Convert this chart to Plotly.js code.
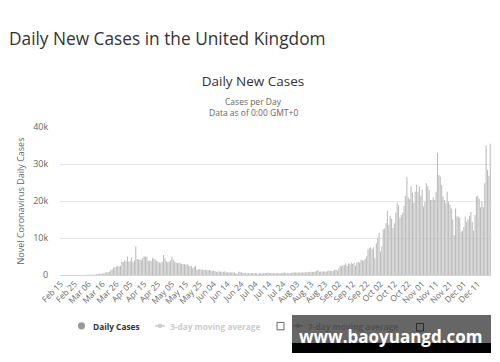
<!DOCTYPE html>
<html><head><meta charset="utf-8">
<script src="https://cdn.plot.ly/plotly-3.0.1.min.js"></script>
<style>html,body{margin:0;padding:0;background:#fff;}#chart{width:500px;height:362px;}</style>
</head><body><div id="chart"></div>
<script>
// Daily new cases (thousands), Feb 15 - Dec 20, 2020
const feb = [0,0,0,0,0,0,0,0,0,0,0.004,0,0.007,0.005,0.003];
const mar = [0.01,0.02,0.01,0.03,0.04,0.05,0.04,0.05,0.04,0.05,0.08,0.3,0.2,0.35,0.3,0.4,0.45,0.7,0.65,0.75,0.9,1.35,1.5,2.0,2.1,2.3,2.4,2.3,2.5,3.6,3.5];
const apr = [4.0,3.6,5.0,3.6,3.7,4.7,3.4,3.9,7.7,4.3,4.2,4.1,4.0,4.6,5.0,5.0,4.9,3.8,3.9,3.7,4.5,4.5,4.1,3.8,3.6,3.4,3.3,3.5,5.4,4.5];
const may = [3.8,3.4,3.6,3.9,5.0,4.1,3.6,3.4,3.2,3.3,3.2,3.0,2.9,3.0,2.8,2.9,2.6,2.3,2.4,1.8,2.2,2.5,1.4,1.5,1.6,1.5,1.5,1.35,1.4,1.35,1.3];
const jun = [1.35,1.2,1.1,1.2,1.0,0.9,0.9,1.0,0.85,0.9,0.9,0.95,0.75,0.7,0.7,0.75,0.7,0.7,0.7,0.45,0.25,0.9,0.85,0.65,0.55,0.5,0.6,0.5,0.45,0.5];
const jul = [0.55,0.5,0.5,0.55,0.5,0.35,0.5,0.55,0.4,0.45,0.55,0.5,0.6,0.55,0.5,0.45,0.5,0.45,0.55,0.5,0.45,0.35,0.55,0.6,0.65,0.6,0.5,0.45,0.55,0.6,0.7];
const aug = [0.65,0.7,0.6,0.65,0.7,0.65,0.7,0.75,0.7,0.75,0.8,0.75,0.85,0.8,0.85,0.9,1.1,1.35,0.9,0.95,0.9,1.0,0.9,0.95,1.0,1.2,1.1,1.1,1.05,1.35,1.5];
const sep = [1.2,1.8,2.5,2.3,2.7,2.7,3.2,2.4,3.2,2.9,3.4,3.0,3.3,2.5,3.4,3.6,3.4,4.1,4.0,3.9,4.3,5.0,6.8,7.3,7.5,6.9,7.5,4.5,8.6,10.0];
const oct = [11.4,6.4,7.7,12.3,12.6,14.0,17.3,13.6,16.0,15.2,12.7,14.0,16.8,19.5,18.8,15.5,16.2,16.8,18.8,21.4,26.4,21.0,20.5,24.0,22.3,19.5,22.5,24.3,22.5,24.0,21.4];
const nov = [23,18.5,19.8,24.8,24,23,20.3,20.3,21,20.3,22.5,33,27,26.6,24.3,21.2,20.3,19.4,22.5,19.8,19,18,15,10.8,18,15.8,15.8,15.5,11.7,12];
const dec = [13,15.8,14.4,15,16,17,14.4,12,16.2,21.2,21.4,20.7,18.3,19.8,18.3,24.8,35,28.4,26.8,35.5];

const tickLabels = ["Feb 15","Feb 25","Mar 06","Mar 16","Mar 26","Apr 05","Apr 15","Apr 25","May 05","May 15","May 25","Jun 04","Jun 14","Jun 24","Jul 04","Jul 14","Jul 24","Aug 03","Aug 13","Aug 23","Sep 02","Sep 12","Sep 22","Oct 02","Oct 12","Oct 22","Nov 01","Nov 11","Nov 21","Dec 01","Dec 11"];
const yTickVals = [0,10,20,30,40];
const yTickText = ["0","10k","20k","30k","40k"];
const legendLabels = ["Daily Cases","3-day moving average","7-day moving average"];

const values = [].concat(feb, mar, apr, may, jun, jul, aug, sep, oct, nov, dec);
const dates = values.map((v, i) => new Date(Date.UTC(2020, 1, 15 + i)).toISOString().slice(0, 10));
const tickVals = tickLabels.map((t, k) => dates[k * 10]);

// geometry helpers (pixel -> paper)
const L = 60, R = 491, T = 127, B = 275;
const px = x => (x - L) / (R - L);
const py = y => (B - y) / (B - T);
const FONT = "Open Sans, Liberation Sans, sans-serif";

const trace = {
  type: 'bar', x: dates, y: values, name: legendLabels[0],
  marker: { color: '#bdbdbd', line: { width: 0 } },
  hoverinfo: 'x+y'
};

const shapes = [
  // legend symbols
  { type: 'circle', xref: 'paper', yref: 'paper', xsizemode: 'pixel', ysizemode: 'pixel',
    xanchor: px(81.5), yanchor: py(325.8), x0: -3.6, x1: 3.6, y0: -3.6, y1: 3.6,
    fillcolor: '#9a9a9a', line: { width: 0 } },
  { type: 'line', xref: 'paper', yref: 'paper', x0: px(155), x1: px(165), y0: py(325.8), y1: py(325.8),
    line: { color: '#cccccc', width: 1.5 } },
  { type: 'circle', xref: 'paper', yref: 'paper', xsizemode: 'pixel', ysizemode: 'pixel',
    xanchor: px(160), yanchor: py(325.8), x0: -2.3, x1: 2.3, y0: -2.3, y1: 2.3,
    fillcolor: '#cccccc', line: { width: 0 } },
  { type: 'rect', xref: 'paper', yref: 'paper', x0: px(277), x1: px(284), y0: py(329.8), y1: py(322.4),
    fillcolor: '#ffffff', line: { color: '#666666', width: 1 } },
  // watermark banner
  { type: 'rect', xref: 'paper', yref: 'paper', x0: px(292), x1: px(491), y0: py(343), y1: py(315),
    fillcolor: 'rgba(0,0,0,0.6)', line: { width: 0 } },
  { type: 'rect', xref: 'paper', yref: 'paper', x0: px(292), x1: px(491), y0: py(353), y1: py(343),
    fillcolor: '#000000', line: { width: 0 } },
  { type: 'line', xref: 'paper', yref: 'paper', x0: px(293), x1: px(303), y0: py(325.8), y1: py(325.8),
    line: { color: '#525252', width: 1.5 } },
  { type: 'circle', xref: 'paper', yref: 'paper', xsizemode: 'pixel', ysizemode: 'pixel',
    xanchor: px(298), yanchor: py(325.8), x0: -2.3, x1: 2.3, y0: -2.3, y1: 2.3,
    fillcolor: '#525252', line: { width: 0 } },
  { type: 'rect', xref: 'paper', yref: 'paper', x0: px(416.5), x1: px(423.5), y0: py(331), y1: py(323.5),
    fillcolor: 'rgba(0,0,0,0)', line: { color: '#2a2a2a', width: 1 } }
];

const ann = (text, x, y, size, color, extra) => Object.assign({
  text: text, xref: 'paper', yref: 'paper', x: px(x), y: py(y), showarrow: false,
  xanchor: 'left', yanchor: 'middle', font: { family: FONT, size: size, color: color }
}, extra || {});

const annotations = [
  ann('Daily New Cases in the United Kingdom', 7, 38.5, 17.3, '#333333'),
  ann('Cases per Day', 253, 101.5, 8.5, '#666666', { xanchor: 'center' }),
  ann('Data as of 0:00 GMT+0', 253, 112, 8.5, '#666666', { xanchor: 'center' }),
  ann('<b>' + legendLabels[0] + '</b>', 90.5, 326, 8.3, '#333333'),
  ann('<b>' + legendLabels[1] + '</b>', 167.5, 326, 8.3, '#cccccc'),
  ann('<b>' + legendLabels[2] + '</b>', 306, 326, 8.3, '#525252'),
  ann('<b>www.baoyuangd.com</b>', 391, 336, 17, '#ffffff', { xanchor: 'center' })
];

const layout = {
  width: 500, height: 362,
  margin: { l: L, r: 500 - R, t: T, b: 362 - B, pad: 0 },
  paper_bgcolor: '#ffffff', plot_bgcolor: '#ffffff',
  font: { family: FONT, color: '#666666', size: 9 },
  title: { text: 'Daily New Cases', x: 253 / 500, xref: 'container', xanchor: 'center',
           y: 1 - 81 / 362, yref: 'container', yanchor: 'middle',
           font: { family: FONT, size: 13.5, color: '#333333' } },
  showlegend: false,
  bargap: 0.22,
  xaxis: {
    type: 'category', tickmode: 'array', tickvals: tickVals, ticktext: tickLabels,
    tickangle: -45, tickfont: { family: FONT, size: 8.3, color: '#666666' },
    showgrid: false, showline: true, linecolor: '#ccd6eb', linewidth: 1,
    ticks: '', range: [-0.5, values.length - 0.5], fixedrange: true
  },
  yaxis: {
    range: [0, 40], tickmode: 'array', tickvals: yTickVals, ticktext: yTickText,
    tickfont: { family: FONT, size: 9, color: '#666666' },
    showgrid: true, gridcolor: '#e6e6e6', gridwidth: 1, zeroline: false,
    ticks: 'outside', ticklen: 9, tickcolor: 'rgba(0,0,0,0)',
    title: { text: 'Novel Coronavirus Daily Cases', standoff: 7,
             font: { family: FONT, size: 9, color: '#666666' } },
    fixedrange: true
  },
  shapes: shapes,
  annotations: annotations
};

Plotly.newPlot('chart', [trace], layout, { staticPlot: true, displayModeBar: false });
</script>
</body></html>
